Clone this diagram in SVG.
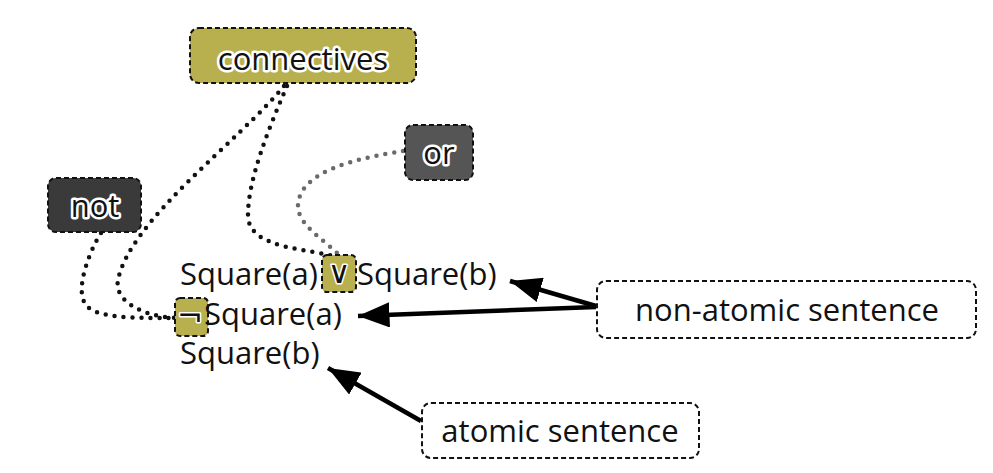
<svg xmlns="http://www.w3.org/2000/svg" width="993" height="473" viewBox="0 0 993 473">
<style>
.box{stroke:#111;stroke-width:2;stroke-dasharray:5 3}
.olive{fill:#b8b04f}
.dark{fill:#3a3a3a}
.mid{fill:#555}
.white{fill:#fff}
.t{font-family:"Open Sans","Noto Sans",sans-serif;font-size:31px;fill:#111}
.sym{font-family:"DejaVu Sans",sans-serif}
.glow{paint-order:stroke;stroke:#fff;stroke-width:5;stroke-linejoin:round}
.thin{stroke-width:3}
.dot{fill:none;stroke:#111;stroke-width:4.5;stroke-linecap:round;stroke-dasharray:0 9}
.dotg{fill:none;stroke:#6a6a6a;stroke-width:4.5;stroke-linecap:round;stroke-dasharray:0 9}
.arr{fill:none;stroke:#000;stroke-width:4.5}
</style>
<defs>
<marker id="ah" markerWidth="7" markerHeight="5.6" refX="7" refY="2.8" orient="auto" markerUnits="strokeWidth">
<path d="M0,0 L7,2.8 L0,5.6 Z" fill="#000"/>
</marker>
</defs>
<rect width="993" height="473" fill="#fff"/>
<g id="connectors">
<path class="dot" d="M284,86 C240,140 130,220 118,280 C114,300 140,316 176,318"/>
<path class="dot" d="M101,233 C90,250 74,290 86,305 C96,318 130,318 176,318"/>
<path class="dot" d="M287,86 C268,130 248,180 248,215 C248,250 310,248 340,258"/>
<path class="dotg" d="M403,151 C360,158 300,170 298,205 C297,225 325,240 340,256"/>
<path class="arr" marker-end="url(#ah)" d="M596,306 L510,281"/>
<path class="arr" marker-end="url(#ah)" d="M596,307 L358,316"/>
<path class="arr" marker-end="url(#ah)" d="M421,421 L328,368"/>
</g>
<g id="connectives">
<rect class="box olive" x="190" y="28" width="226" height="55" rx="9"/>
<text class="t glow" x="303" y="70" text-anchor="middle" font-size="34">connectives</text>
</g>
<g id="or">
<rect class="box mid" x="405" y="125" width="68" height="55" rx="8"/>
<text class="t glow" x="439" y="164" text-anchor="middle">or</text>
</g>
<g id="not">
<rect class="box dark" x="48" y="178" width="93" height="54" rx="8"/>
<text class="t glow" x="95" y="217" text-anchor="middle">not</text>
</g>
<g id="sentences">
<rect class="box olive" x="322" y="255" width="34" height="37" rx="5"/>
<rect class="box olive" x="175" y="298" width="33" height="38" rx="5"/>
<text class="t" x="180" y="285">Square(a)</text>
<text class="t sym glow thin" x="339" y="283" text-anchor="middle" font-size="26">∨</text>
<text class="t" x="357" y="285">Square(b)</text>
<text class="t sym glow thin" x="177" y="326" font-size="28">¬</text>
<text class="t" x="204" y="325">Square(a)</text>
<text class="t" x="180" y="364">Square(b)</text>
</g>
<g id="non-atomic">
<rect class="box white" x="597" y="281" width="379" height="57" rx="9"/>
<text class="t" x="787" y="321" text-anchor="middle">non-atomic sentence</text>
</g>
<g id="atomic">
<rect class="box white" x="422" y="403" width="277" height="55" rx="9"/>
<text class="t" x="560" y="442" text-anchor="middle">atomic sentence</text>
</g>
</svg>
